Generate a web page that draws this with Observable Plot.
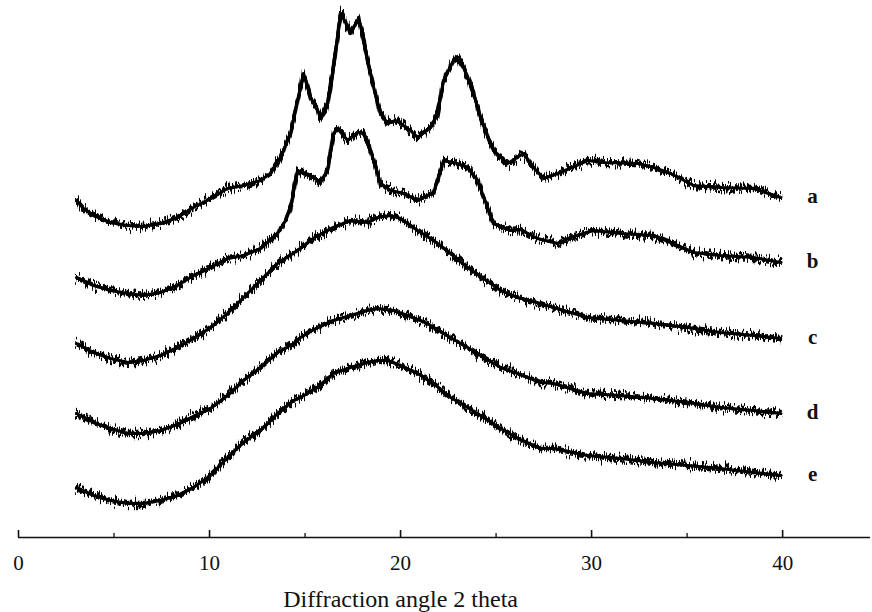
<!DOCTYPE html>
<html>
<head>
<meta charset="utf-8">
<script src="https://cdn.jsdelivr.net/npm/d3@7"></script>
<script src="https://cdn.jsdelivr.net/npm/@observablehq/plot@0.6"></script>
<style>
  html, body { margin: 0; padding: 0; background: #fff; }
  #chart svg { display: block; }
</style>
</head>
<body>
<div id="chart"></div>
<script>
// X-ray diffraction patterns, five samples stacked with vertical offsets (arbitrary intensity units)
const seriesNames = ["a", "b", "c", "d", "e"];

const angleA = [3.04, 3.40, 3.93, 4.82, 5.71, 6.54, 7.43, 8.32, 9.16, 10.05, 10.94, 11.78, 12.67, 13.19, 13.72, 14.24, 14.61, 14.92, 15.29, 15.65, 15.81, 16.18, 16.49, 16.86, 17.12, 17.38, 17.80, 18.01, 18.27, 18.59, 18.95, 19.32, 19.74, 20.00, 20.52, 20.89, 21.57, 21.94, 22.25, 22.77, 22.98, 23.30, 23.82, 24.19, 24.87, 25.60, 26.02, 26.44, 26.96, 27.49, 28.38, 29.79, 30.63, 32.41, 33.25, 34.14, 35.34, 36.75, 38.48, 39.90];
const intensityA = [337, 329, 322, 315, 312, 311, 314, 320, 330, 339, 349, 352, 357, 364, 380, 404, 437, 464, 440, 427, 420, 434, 470, 524, 515, 504, 519, 504, 477, 450, 424, 414, 417, 414, 407, 400, 410, 424, 457, 477, 480, 470, 444, 420, 387, 374, 379, 384, 370, 359, 365, 377, 375, 374, 370, 364, 352, 350, 349, 340];

const angleB = [3.04, 3.93, 4.82, 5.71, 6.54, 7.43, 8.32, 9.16, 10.05, 10.94, 11.78, 12.67, 13.56, 13.98, 14.24, 14.61, 14.92, 15.45, 15.81, 16.18, 16.49, 16.70, 17.23, 17.75, 18.06, 18.43, 18.95, 19.48, 20.16, 20.89, 21.73, 22.25, 22.98, 23.51, 24.03, 24.87, 25.76, 26.28, 27.17, 28.22, 28.90, 30.10, 31.52, 33.25, 34.14, 35.34, 36.75, 38.48, 39.90];
const intensityB = [260, 252, 247, 244, 242, 245, 252, 262, 270, 279, 282, 289, 304, 317, 330, 367, 364, 360, 355, 367, 404, 409, 397, 405, 404, 387, 354, 347, 344, 337, 345, 377, 374, 370, 357, 314, 307, 308, 299, 294, 300, 307, 304, 302, 295, 285, 282, 280, 275];

const angleC = [3.04, 3.93, 4.82, 5.71, 6.54, 7.43, 8.32, 9.16, 10.05, 10.94, 11.78, 12.67, 13.56, 14.60, 15.50, 16.49, 17.38, 18.27, 18.80, 19.48, 20.00, 20.89, 21.73, 22.62, 23.51, 24.35, 25.24, 26.13, 27.33, 28.01, 29.79, 31.52, 33.25, 35.03, 36.75, 38.48, 39.90];
const intensityC = [194, 185, 179, 175, 177, 182, 190, 199, 210, 224, 240, 257, 274, 287, 300, 310, 317, 315, 320, 322, 319, 307, 297, 284, 270, 259, 247, 240, 234, 230, 220, 217, 214, 210, 205, 202, 199];

const angleD = [3.04, 3.93, 4.82, 5.71, 6.54, 7.43, 8.32, 9.16, 10.05, 10.94, 11.78, 12.67, 13.56, 14.40, 14.76, 15.65, 16.49, 17.38, 18.27, 18.80, 19.63, 20.37, 21.41, 22.25, 23.51, 24.35, 25.24, 26.13, 27.33, 28.01, 29.79, 31.52, 33.25, 35.03, 36.75, 38.48, 39.90];
const intensityD = [124, 115, 109, 104, 104, 107, 113, 121, 129, 142, 157, 170, 185, 194, 200, 210, 217, 222, 227, 229, 227, 222, 214, 204, 190, 180, 170, 164, 155, 154, 144, 142, 139, 135, 130, 127, 124];

const angleE = [3.04, 3.93, 4.82, 5.71, 6.54, 7.43, 8.32, 9.16, 10.05, 10.94, 11.78, 12.67, 13.56, 14.40, 14.76, 15.65, 16.49, 17.38, 18.27, 18.80, 19.32, 20.00, 20.89, 21.73, 22.62, 23.51, 24.35, 25.24, 26.13, 27.33, 28.01, 29.79, 31.52, 33.25, 35.03, 36.75, 38.48, 39.90];
const intensityE = [50, 42, 37, 34, 34, 37, 42, 50, 62, 80, 95, 107, 124, 137, 140, 150, 164, 170, 175, 177, 177, 172, 164, 154, 140, 130, 120, 109, 99, 89, 89, 82, 79, 75, 72, 69, 65, 62];

const majorTicks = [0, 10, 20, 30, 40];
const minorTicks = [5, 15, 25, 35];
const axisTitle = "Diffraction angle 2 theta";

const angles = [angleA, angleB, angleC, angleD, angleE];
const intensities = [intensityA, intensityB, intensityC, intensityD, intensityE];

// long-format table for the line marks
const rows = seriesNames.flatMap((name, i) =>
  angles[i].map((angle, j) => ({series: name, angle, intensity: intensities[i][j]}))
);
// each curve is labelled beside its last point
const labelRows = seriesNames.map((name, i) => ({
  series: name,
  intensity: intensities[i][intensities[i].length - 1]
}));

const serif = "'Liberation Serif', 'Times New Roman', Times, serif";
const traceStyle = {x: "angle", y: "intensity", z: "series", stroke: "#000", strokeLinejoin: "round"};

const plot = Plot.plot({
  width: 872,
  height: 612,
  marginLeft: 18,
  marginRight: 2,
  marginTop: 0,
  marginBottom: 75,
  x: {domain: [0, 44.6]},
  y: {domain: [0, 537], axis: null},
  style: {fontFamily: serif, background: "#fff", color: "#111", overflow: "visible"},
  marks: [
    Plot.ruleY([0], {stroke: "#111", strokeWidth: 1.6}),
    Plot.ruleX(majorTicks, {x: d => d, y1: 0, y2: 7, stroke: "#111", strokeWidth: 1.6}),
    Plot.ruleX(minorTicks, {x: d => d, y1: 0, y2: 4, stroke: "#111", strokeWidth: 1.3}),
    Plot.axisX({ticks: majorTicks, tickSize: 0, tickPadding: 18, fontSize: 21, fontFamily: serif, label: null, tickFormat: d => String(d)}),
    Plot.text([axisTitle], {x: 20, y: 0, dy: 62, text: d => d, fontSize: 24, fontFamily: serif, fill: "#111"}),
    // solid core of each trace
    Plot.line(rows, {...traceStyle, strokeWidth: 3.1}),
    // two jagged fringes of the same trace (counting noise), roughened below
    Plot.line(rows, {...traceStyle, strokeWidth: 3.3}),
    Plot.line(rows, {...traceStyle, strokeWidth: 3.3}),
    Plot.text(labelRows, {x: 41.57, y: "intensity", text: "series", dy: -1, fontSize: 21, fontWeight: "bold", fontFamily: serif, fill: "#111"})
  ]
});

// vertical jitter filters that roughen the fringe strokes
const ns = "http://www.w3.org/2000/svg";
const defs = document.createElementNS(ns, "defs");
const grain = (id, seed, freq, scale) => `
  <filter id="${id}" x="-2%" y="-30%" width="104%" height="160%">
    <feTurbulence type="fractalNoise" baseFrequency="${freq} 0.04" numOctaves="2" seed="${seed}" result="noise"/>
    <feColorMatrix in="noise" type="matrix"
      values="1 0 0 0 0  0 0 0 0 0.5  0 0 0 0 0  0 0 0 0 1" result="map"/>
    <feDisplacementMap in="SourceGraphic" in2="map" scale="${scale}" xChannelSelector="G" yChannelSelector="R"/>
  </filter>`;
defs.innerHTML = grain("xrd-grain-1", 7, 0.8, 20) + grain("xrd-grain-2", 23, 1.2, 18);
plot.insertBefore(defs, plot.firstChild);
const lineGroups = plot.querySelectorAll('g[aria-label="line"]');
if (lineGroups.length > 2) {
  lineGroups[1].setAttribute("filter", "url(#xrd-grain-1)");
  lineGroups[2].setAttribute("filter", "url(#xrd-grain-2)");
}

document.getElementById("chart").append(plot);
</script>
</body>
</html>
